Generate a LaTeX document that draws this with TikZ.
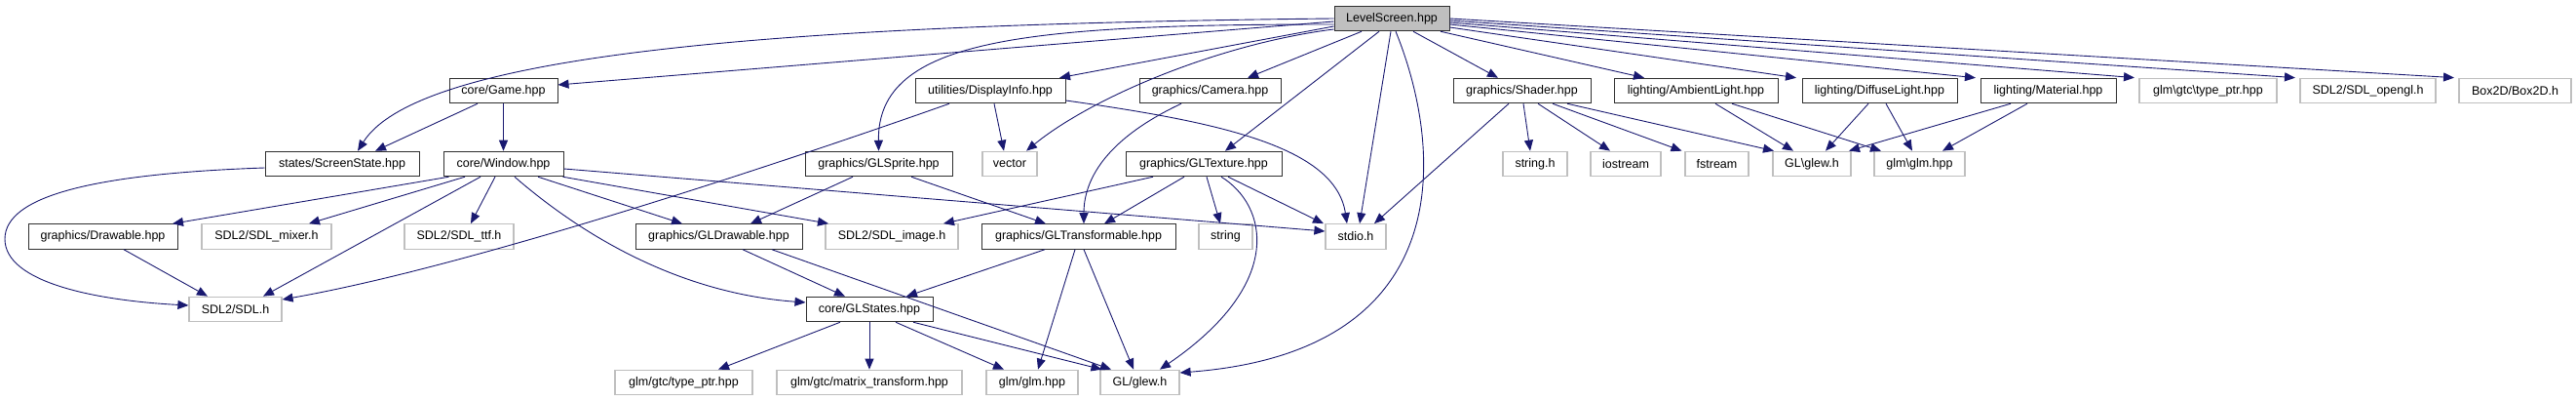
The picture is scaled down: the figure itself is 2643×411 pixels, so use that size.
\documentclass[tikz,border=0pt]{standalone}
\usepackage{fontspec}
\setmainfont{Liberation Sans}
\usetikzlibrary{arrows.meta}
\definecolor{edgeblue}{HTML}{191970}
\definecolor{extgray}{HTML}{BFBFBF}
\definecolor{docborder}{HTML}{303030}
\begin{document}
\begin{tikzpicture}[x=1pt,y=-1pt,
  base/.style={draw, rectangle, inner sep=0pt, minimum height=25.5pt,
    font=\fontsize{12.5}{14}\selectfont, line width=1pt},
  doc/.style={base, draw=docborder},
  ext/.style={base, draw=extgray, line width=1.2pt},
  root/.style={base, draw=docborder, fill=extgray},
  edge/.style={draw=edgeblue, line width=0.9pt, -{Triangle[length=11pt,width=9pt]}}]
\useasboundingbox (0,0) rectangle (2643,411);
% row 0
\node[root, minimum width=118pt] (ls) at (1428,19) {LevelScreen.hpp};
% row 1
\node[doc, minimum width=111pt] (game) at (516.5,93) {core/Game.hpp};
\node[doc, minimum width=154pt] (dinfo) at (1016,93) {utilities/DisplayInfo.hpp};
\node[doc, minimum width=145pt] (camera) at (1241.5,93) {graphics/Camera.hpp};
\node[doc, minimum width=141pt] (shader) at (1561.5,93) {graphics/Shader.hpp};
\node[doc, minimum width=168pt] (ambient) at (1740,93) {lighting/AmbientLight.hpp};
\node[doc, minimum width=159pt] (diffuse) at (1928.5,93) {lighting/DiffuseLight.hpp};
\node[doc, minimum width=139pt] (material) at (2101.5,93) {lighting/Material.hpp};
\node[ext, minimum width=141pt] (gtcptrb) at (2265.5,93) {glm\textbackslash gtc\textbackslash type\_ptr.hpp};
\node[ext, minimum width=139pt] (sdlgl) at (2429.5,93) {SDL2/SDL\_opengl.h};
\node[ext, minimum width=115pt] (box) at (2580.5,93) {Box2D/Box2D.h};
% row 2
\node[doc, minimum width=158pt] (ss) at (351,168) {states/ScreenState.hpp};
\node[doc, minimum width=123pt] (window) at (516.5,168) {core/Window.hpp};
\node[doc, minimum width=151pt] (sprite) at (901.5,168) {graphics/GLSprite.hpp};
\node[ext, minimum width=56pt] (vector) at (1036,168) {vector};
\node[doc, minimum width=160pt] (texture) at (1235,168) {graphics/GLTexture.hpp};
\node[ext, minimum width=66pt] (stringh) at (1575,168) {string.h};
\node[ext, minimum width=72pt] (iostream) at (1668,168) {iostream};
\node[ext, minimum width=65pt] (fstream) at (1761.5,168) {fstream};
\node[ext, minimum width=80pt] (glewb) at (1859,168) {GL\textbackslash glew.h};
\node[ext, minimum width=93pt] (glmb) at (1969.5,168) {glm\textbackslash glm.hpp};
% row 3
\node[doc, minimum width=153pt] (drawable) at (105.5,242.5) {graphics/Drawable.hpp};
\node[ext, minimum width=133pt] (mixer) at (273.5,242.5) {SDL2/SDL\_mixer.h};
\node[ext, minimum width=112pt] (ttf) at (471,242.5) {SDL2/SDL\_ttf.h};
\node[doc, minimum width=171pt] (gldrawable) at (737.5,242.5) {graphics/GLDrawable.hpp};
\node[ext, minimum width=136pt] (image) at (915,242.5) {SDL2/SDL\_image.h};
\node[doc, minimum width=199pt] (transf) at (1106.5,242.5) {graphics/GLTransformable.hpp};
\node[ext, minimum width=55pt] (string) at (1257.5,242.5) {string};
\node[ext, minimum width=62pt] (stdio) at (1391,242.5) {stdio.h};
% row 4
\node[ext, minimum width=95pt] (sdl) at (241.5,317) {SDL2/SDL.h};
\node[doc, minimum width=130pt] (states) at (892,317) {core/GLStates.hpp};
% row 5
\node[ext, minimum width=141pt] (gtcptr) at (701.5,392) {glm/gtc/type\_ptr.hpp};
\node[ext, minimum width=190pt] (matrix) at (892,392) {glm/gtc/matrix\_transform.hpp};
\node[ext, minimum width=94pt] (glm) at (1059,392) {glm/glm.hpp};
\node[ext, minimum width=81pt] (glew) at (1169.5,392) {GL/glew.h};

% LevelScreen edges
\draw[edge] (ls.west) .. controls (800,25) and (430,55) .. ([xshift=16pt]ss.north);
\draw[edge] ([yshift=-3pt]ls.west) -- ([yshift=6pt]game.east);
\draw[edge] ([yshift=-6pt]ls.west) .. controls (1050,25) and (900,40) .. (sprite.north);
\draw[edge] ([yshift=-8pt]ls.west) -- ([xshift=71pt]dinfo.north);
\draw[edge] ([yshift=-11pt]ls.west) .. controls (1250,45) and (1120,100) .. ([xshift=17pt]vector.north);
\draw[edge] ([xshift=-31pt]ls.south) -- ([xshift=38.5pt]camera.north);
\draw[edge] ([xshift=-13pt]ls.south) -- ([xshift=22pt]texture.north);
\draw[edge] ([xshift=-1pt]ls.south) -- ([xshift=4pt]stdio.north);
\draw[edge] ([xshift=4pt]ls.south) .. controls (1480,150) and (1500,360) .. ([yshift=10pt]glew.east);
\draw[edge] ([xshift=22pt]ls.south) -- ([xshift=-24.5pt]shader.north);
\draw[edge] ([xshift=50pt]ls.south) -- ([xshift=-53pt]ambient.north);
\draw[edge] ([yshift=-9pt]ls.east) -- ([xshift=-85.5pt]diffuse.north);
\draw[edge] ([yshift=-6pt]ls.east) -- ([xshift=-74.5pt]material.north);
\draw[edge] ([yshift=-4pt]ls.east) -- ([xshift=-75.5pt]gtcptrb.north);
\draw[edge] ([yshift=-2pt]ls.east) -- ([xshift=-74.5pt]sdlgl.north);
\draw[edge] (ls.east) -- ([xshift=-62.5pt]box.north);
% Game
\draw[edge] ([xshift=-26.5pt]game.south) -- ([xshift=34pt]ss.north);
\draw[edge] (game.south) -- (window.north);
% ScreenState
\draw[edge] ([yshift=-4pt]ss.west) .. controls (100,178) and (5,200) .. (5,245)
  .. controls (5,290) and (100,308) .. ([yshift=4pt]sdl.west);
% Window
\draw[edge] ([xshift=-56pt]window.south) -- ([xshift=71.5pt]drawable.north);
\draw[edge] ([xshift=-39.5pt]window.south) -- ([xshift=43.5pt]mixer.north);
\draw[edge] ([xshift=-23.5pt]window.south) -- ([xshift=28.5pt]sdl.north);
\draw[edge] ([xshift=-8.5pt]window.south) -- ([xshift=12pt]ttf.north);
\draw[edge] ([xshift=35.5pt]window.south) -- ([xshift=-37.5pt]gldrawable.north);
\draw[edge] ([xshift=61pt]window.south) -- ([xshift=-65pt]image.north);
\draw[edge] ([yshift=-5pt]window.east) -- ([yshift=5.5pt]stdio.west);
\draw[edge] ([xshift=11.5pt]window.south) .. controls (590,235) and (690,300) .. ([yshift=7pt]states.west);
% DisplayInfo
\draw[edge] ([xshift=4pt]dinfo.south) -- ([xshift=-6pt]vector.north);
\draw[edge] ([xshift=-42pt]dinfo.south) .. controls (850,150) and (500,270) .. ([yshift=10pt]sdl.east);
\draw[edge] ([yshift=-10pt]dinfo.east) .. controls (1250,125) and (1370,150) .. ([xshift=-9pt]stdio.north);
% Camera
\draw[edge] ([xshift=-29.5pt]camera.south) .. controls (1140,140) and (1112,180) .. ([xshift=5.5pt]transf.north);
% GLSprite
\draw[edge] ([xshift=-26.5pt]sprite.south) -- ([xshift=32.5pt]gldrawable.north);
\draw[edge] ([xshift=33.5pt]sprite.south) -- ([xshift=-33.5pt]transf.north);
% GLTexture
\draw[edge] ([xshift=-52pt]texture.south) -- ([xshift=53pt]image.north);
\draw[edge] ([xshift=-20pt]texture.south) -- ([xshift=26.5pt]transf.north);
\draw[edge] ([xshift=3pt]texture.south) -- ([xshift=-5.5pt]string.north);
\draw[edge] ([xshift=25pt]texture.south) -- ([xshift=-33pt]stdio.north);
\draw[edge] ([xshift=18pt]texture.south) .. controls (1300,210) and (1320,290) .. ([xshift=20.5pt]glew.north);
% GLDrawable
\draw[edge] ([xshift=24.5pt]gldrawable.south) -- ([xshift=-25pt]states.north);
\draw[edge] ([xshift=54.5pt]gldrawable.south) -- ([xshift=-29.5pt]glew.north);
% Drawable
\draw[edge] ([xshift=21.5pt]drawable.south) -- ([xshift=-28.5pt]sdl.north);
% GLTransformable
\draw[edge] ([xshift=-34.5pt]transf.south) -- ([xshift=38pt]states.north);
\draw[edge] ([xshift=-3.5pt]transf.south) -- ([xshift=6pt]glm.north);
\draw[edge] ([xshift=5.5pt]transf.south) -- ([xshift=-6.5pt]glew.north);
% GLStates
\draw[edge] ([xshift=-30pt]states.south) -- ([xshift=35.5pt]gtcptr.north);
\draw[edge] (states.south) -- (matrix.north);
\draw[edge] ([xshift=27pt]states.south) -- ([xshift=-29pt]glm.north);
\draw[edge] ([xshift=45pt]states.south) -- ([xshift=-39pt]glew.north);
% Shader
\draw[edge] ([xshift=-13.5pt]shader.south) -- ([xshift=19pt]stdio.north);
\draw[edge] ([xshift=1.5pt]shader.south) -- ([xshift=-5pt]stringh.north);
\draw[edge] ([xshift=16.5pt]shader.south) -- ([xshift=-16pt]iostream.north);
\draw[edge] ([xshift=31.5pt]shader.south) -- ([xshift=-36pt]fstream.north);
\draw[edge] ([xshift=46.5pt]shader.south) -- ([xshift=-39pt]glewb.north);
% Lighting
\draw[edge] ([xshift=20pt]ambient.south) -- ([xshift=-19pt]glewb.north);
\draw[edge] ([xshift=37pt]ambient.south) -- ([xshift=-39.5pt]glmb.north);
\draw[edge] ([xshift=-11.5pt]diffuse.south) -- ([xshift=14pt]glewb.north);
\draw[edge] ([xshift=6.5pt]diffuse.south) -- ([xshift=-7.5pt]glmb.north);
\draw[edge] ([xshift=-38.5pt]material.south) -- ([xshift=38pt]glewb.north);
\draw[edge] ([xshift=-21.5pt]material.south) -- ([xshift=23.5pt]glmb.north);
\end{tikzpicture}
\end{document}
